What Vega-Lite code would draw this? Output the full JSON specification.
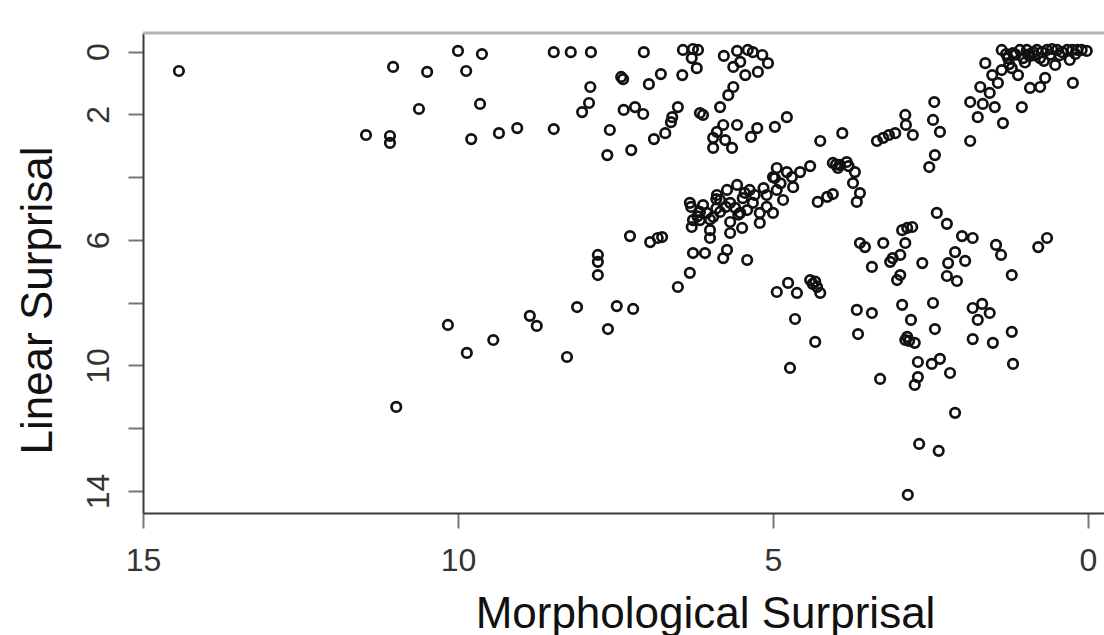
{
  "$schema": "https://vega.github.io/schema/vega-lite/v6.json",
  "width": 961,
  "height": 480,
  "autosize": {"type": "none"},
  "padding": {"left": 143, "top": 33, "right": 0, "bottom": 122},
  "background": "white",
  "config": {"view": {"stroke": null}, "font": "Liberation Sans"},
  "data": {"values": [
    {"morph":14.43,"linear":0.62},{"morph":11.46,"linear":2.66},{"morph":11.08,"linear":2.69},{"morph":11.08,"linear":2.91},{"morph":11.03,"linear":0.49},{"morph":10.62,"linear":1.83},{"morph":10.49,"linear":0.65},{"morph":10.00,"linear":-0.02},{"morph":9.87,"linear":0.62},{"morph":9.62,"linear":0.08},{"morph":9.65,"linear":1.67},{"morph":9.79,"linear":2.79},{"morph":9.35,"linear":2.60},{"morph":9.06,"linear":2.44},{"morph":8.48,"linear":0.02},{"morph":8.21,"linear":0.02},{"morph":7.89,"linear":0.02},{"morph":8.48,"linear":2.47},
    {"morph":10.98,"linear":11.32},{"morph":10.16,"linear":8.71},{"morph":9.86,"linear":9.60},{"morph":9.44,"linear":9.19},{"morph":8.86,"linear":8.42},{"morph":8.75,"linear":8.74},{"morph":8.27,"linear":9.73},{"morph":8.11,"linear":8.14},{"morph":7.62,"linear":8.84},{"morph":7.48,"linear":8.11},{"morph":7.22,"linear":8.20},
    {"morph":7.90,"linear":1.13},{"morph":7.92,"linear":1.64},{"morph":8.03,"linear":1.93},{"morph":7.59,"linear":2.50},{"morph":7.63,"linear":3.30},{"morph":7.25,"linear":3.14},{"morph":7.41,"linear":0.81},{"morph":7.38,"linear":0.88},{"morph":7.05,"linear":0.02},{"morph":6.97,"linear":1.04},{"morph":6.78,"linear":0.72},{"morph":7.37,"linear":1.86},{"morph":7.19,"linear":1.77},{"morph":7.06,"linear":1.99},{"morph":6.89,"linear":2.79},{"morph":6.71,"linear":2.60},{"morph":6.62,"linear":2.25},{"morph":6.60,"linear":2.09},{"morph":6.51,"linear":1.77},{"morph":6.44,"linear":0.75},{"morph":6.21,"linear":0.53},{"morph":6.43,"linear":-0.05},{"morph":6.27,"linear":-0.08},{"morph":6.19,"linear":-0.05},{"morph":6.29,"linear":0.21},{"morph":6.16,"linear":1.96},{"morph":6.11,"linear":2.02},{"morph":5.84,"linear":1.77},{"morph":5.71,"linear":1.39},{"morph":5.63,"linear":1.13},{"morph":5.89,"linear":2.56},{"morph":5.79,"linear":2.34},{"morph":5.57,"linear":2.34},{"morph":5.95,"linear":3.07},{"morph":5.65,"linear":3.07},{"morph":5.76,"linear":2.82},{"morph":5.95,"linear":2.75},{"morph":5.35,"linear":2.72},{"morph":5.25,"linear":2.44},{"morph":4.97,"linear":2.40},{"morph":4.78,"linear":2.09},{"morph":5.78,"linear":0.14},{"morph":5.57,"linear":-0.02},{"morph":5.32,"linear":0.02},{"morph":5.17,"linear":0.11},{"morph":5.08,"linear":0.37},{"morph":5.63,"linear":0.49},{"morph":5.44,"linear":0.75},{"morph":5.24,"linear":0.65},{"morph":5.52,"linear":0.33},{"morph":5.40,"linear":-0.05},
    {"morph":4.25,"linear":2.85},{"morph":3.90,"linear":2.60},{"morph":3.35,"linear":2.85},{"morph":3.25,"linear":2.75},{"morph":3.16,"linear":2.66},{"morph":3.06,"linear":2.60},{"morph":2.90,"linear":2.02},{"morph":2.89,"linear":2.34},{"morph":2.78,"linear":2.66},{"morph":2.44,"linear":1.61},{"morph":2.46,"linear":2.18},{"morph":2.35,"linear":2.56},{"morph":2.43,"linear":3.30},{"morph":2.52,"linear":3.68},{"morph":4.94,"linear":3.71},{"morph":4.97,"linear":4.03},{"morph":4.78,"linear":3.84},{"morph":4.57,"linear":3.84},{"morph":4.41,"linear":3.65},{"morph":4.05,"linear":3.55},{"morph":3.94,"linear":3.61},{"morph":3.83,"linear":3.52},{"morph":3.97,"linear":3.71},{"morph":3.70,"linear":3.84},{"morph":3.73,"linear":4.19},{"morph":3.62,"linear":4.51},{"morph":3.67,"linear":4.79},{"morph":4.29,"linear":4.79},{"morph":4.14,"linear":4.63},{"morph":4.05,"linear":4.54},{"morph":3.80,"linear":3.65},{"morph":4.00,"linear":3.60},
    {"morph":1.37,"linear":-0.05},{"morph":1.19,"linear":0.05},{"morph":1.08,"linear":-0.05},{"morph":0.97,"linear":-0.05},{"morph":0.87,"linear":0.02},{"morph":0.81,"linear":-0.05},{"morph":0.73,"linear":0.02},{"morph":0.65,"linear":-0.05},{"morph":0.57,"linear":-0.08},{"morph":0.49,"linear":-0.05},{"morph":0.41,"linear":0.02},{"morph":0.33,"linear":-0.05},{"morph":0.25,"linear":-0.05},{"morph":0.17,"linear":-0.05},{"morph":0.10,"linear":-0.05},{"morph":0.02,"linear":-0.02},{"morph":0.76,"linear":0.21},{"morph":1.03,"linear":0.21},{"morph":0.92,"linear":0.14},{"morph":0.52,"linear":0.43},{"morph":0.29,"linear":0.27},{"morph":0.24,"linear":1.00},{"morph":0.68,"linear":0.84},{"morph":0.76,"linear":1.13},{"morph":0.92,"linear":1.16},{"morph":1.63,"linear":0.37},{"morph":1.37,"linear":0.59},{"morph":1.21,"linear":0.53},{"morph":1.11,"linear":0.75},{"morph":1.52,"linear":0.75},{"morph":1.43,"linear":1.00},{"morph":1.71,"linear":1.13},{"morph":1.56,"linear":1.32},{"morph":1.87,"linear":1.61},{"morph":1.67,"linear":1.67},{"morph":1.48,"linear":1.77},{"morph":1.75,"linear":2.09},{"morph":1.05,"linear":1.77},{"morph":1.35,"linear":2.28},{"morph":1.87,"linear":2.85},{"morph":1.27,"linear":0.21},
    {"morph":1.15,"linear":0.10},{"morph":0.95,"linear":0.10},{"morph":0.85,"linear":0.12},{"morph":0.60,"linear":0.10},{"morph":0.45,"linear":0.12},{"morph":0.20,"linear":0.08},{"morph":1.30,"linear":0.08},{"morph":0.70,"linear":0.30},{"morph":1.00,"linear":0.35},{"morph":1.25,"linear":0.40},
    {"morph":7.27,"linear":5.88},{"morph":6.95,"linear":6.07},{"morph":6.83,"linear":5.94},{"morph":6.76,"linear":5.91},{"morph":7.78,"linear":6.48},{"morph":7.78,"linear":6.70},{"morph":7.78,"linear":7.12},{"morph":6.32,"linear":4.82},{"morph":6.30,"linear":4.95},{"morph":6.27,"linear":5.37},{"morph":6.29,"linear":5.59},{"morph":5.89,"linear":4.57},{"morph":5.73,"linear":4.41},{"morph":5.68,"linear":4.82},{"morph":5.48,"linear":4.67},{"morph":5.32,"linear":4.82},{"morph":5.10,"linear":4.57},{"morph":4.94,"linear":4.41},{"morph":4.84,"linear":4.73},{"morph":4.68,"linear":4.32},{"morph":5.00,"linear":4.00},{"morph":6.16,"linear":5.37},{"morph":6.05,"linear":5.14},{"morph":5.95,"linear":5.27},{"morph":5.84,"linear":5.11},{"morph":5.68,"linear":5.43},{"morph":5.52,"linear":5.14},{"morph":5.41,"linear":5.05},{"morph":5.21,"linear":5.14},{"morph":5.10,"linear":4.95},{"morph":5.00,"linear":5.14},{"morph":5.21,"linear":5.46},{"morph":6.00,"linear":5.69},{"morph":6.00,"linear":5.94},{"morph":5.68,"linear":5.78},{"morph":5.49,"linear":5.62},{"morph":6.27,"linear":6.42},{"morph":6.08,"linear":6.42},{"morph":5.73,"linear":6.32},{"morph":5.79,"linear":6.58},{"morph":5.41,"linear":6.64},{"morph":6.32,"linear":7.05},{"morph":6.51,"linear":7.50},{"morph":6.11,"linear":4.89},{"morph":5.57,"linear":4.25},{"morph":5.37,"linear":4.41},{"morph":5.84,"linear":4.73},{"morph":6.16,"linear":5.11},{"morph":5.60,"linear":4.98},{"morph":5.29,"linear":4.57},
    {"morph":5.90,"linear":4.70},{"morph":5.75,"linear":4.95},{"morph":5.55,"linear":5.20},{"morph":5.90,"linear":5.00},{"morph":6.20,"linear":5.25},{"morph":6.00,"linear":5.35},{"morph":5.45,"linear":4.50},{"morph":5.15,"linear":4.35},{"morph":4.88,"linear":4.20},{"morph":4.70,"linear":4.00},
    {"morph":2.40,"linear":5.14},{"morph":2.24,"linear":5.49},{"morph":2.95,"linear":5.69},{"morph":2.87,"linear":5.62},{"morph":2.79,"linear":5.59},{"morph":3.62,"linear":6.10},{"morph":3.54,"linear":6.23},{"morph":3.25,"linear":6.10},{"morph":2.90,"linear":6.10},{"morph":3.10,"linear":6.58},{"morph":3.14,"linear":6.70},{"morph":2.98,"linear":6.48},{"morph":3.43,"linear":6.86},{"morph":2.63,"linear":6.74},{"morph":2.98,"linear":7.12},{"morph":3.03,"linear":7.28},{"morph":2.00,"linear":5.88},{"morph":1.83,"linear":5.94},{"morph":2.11,"linear":6.39},{"morph":2.22,"linear":6.74},{"morph":1.95,"linear":6.67},{"morph":2.24,"linear":7.15},{"morph":2.08,"linear":7.31},{"morph":1.46,"linear":6.16},{"morph":1.38,"linear":6.48},{"morph":1.21,"linear":7.12},{"morph":0.79,"linear":6.23},{"morph":0.65,"linear":5.94},
    {"morph":4.94,"linear":7.66},{"morph":4.76,"linear":7.37},{"morph":4.62,"linear":7.69},{"morph":4.41,"linear":7.28},{"morph":4.37,"linear":7.40},{"morph":4.33,"linear":7.33},{"morph":4.30,"linear":7.50},{"morph":4.25,"linear":7.69},{"morph":4.65,"linear":8.52},{"morph":3.67,"linear":8.23},{"morph":3.43,"linear":8.33},{"morph":2.95,"linear":8.07},{"morph":2.46,"linear":8.01},{"morph":2.81,"linear":8.55},{"morph":2.43,"linear":8.84},{"morph":3.65,"linear":9.00},{"morph":2.87,"linear":9.09},{"morph":2.90,"linear":9.19},{"morph":2.84,"linear":9.22},{"morph":2.75,"linear":9.28},{"morph":1.83,"linear":8.17},{"morph":1.68,"linear":8.04},{"morph":1.56,"linear":8.33},{"morph":1.75,"linear":8.55},{"morph":1.21,"linear":8.93},{"morph":1.83,"linear":9.16},{"morph":1.51,"linear":9.28},{"morph":4.33,"linear":9.25},{"morph":4.73,"linear":10.08},{"morph":2.70,"linear":9.89},{"morph":2.48,"linear":9.95},{"morph":2.35,"linear":9.79},{"morph":2.19,"linear":10.24},{"morph":2.70,"linear":10.37},{"morph":2.75,"linear":10.62},{"morph":3.30,"linear":10.43},{"morph":1.19,"linear":9.95},{"morph":2.11,"linear":11.51},{"morph":2.68,"linear":12.50},{"morph":2.37,"linear":12.72},{"morph":2.86,"linear":14.12}
  ]},
  "layer": [
    {
      "data": {"values": [{}]},
      "mark": {"type": "rule", "color": "#b3b3b3", "strokeWidth": 3},
      "encoding": {"y": {"datum": -0.59, "type": "quantitative"}}
    },
    {
      "mark": {"type": "point", "shape": "circle", "filled": false, "stroke": "#111111", "strokeWidth": 2.7, "size": 90, "opacity": 1},
      "encoding": {
        "x": {
          "field": "morph", "type": "quantitative",
          "scale": {"domain": [-0.254, 15], "reverse": true, "nice": false, "zero": false},
          "axis": {
            "values": [0, 5, 10, 15], "title": "Morphological Surprisal", "grid": false,
            "domainColor": "#3a3a3a", "domainWidth": 2, "tickColor": "#777777", "tickWidth": 2, "tickSize": 15,
            "labelFontSize": 32, "labelColor": "#333333", "labelPadding": 17, "labelFont": "Liberation Sans",
            "labelFlush": false, "labelOverlap": false, "labelDx": 5,
            "titleFontSize": 44, "titleFontWeight": "normal", "titleColor": "#111111", "titleFont": "Liberation Sans",
            "titleX": 562, "titleY": 114, "titleBaseline": "alphabetic", "titleAlign": "center"
          }
        },
        "y": {
          "field": "linear", "type": "quantitative",
          "scale": {"domain": [-0.59, 14.7], "reverse": true, "nice": false, "zero": false},
          "axis": {
            "values": [0, 2, 4, 6, 8, 10, 12, 14], "title": "Linear Surprisal", "grid": false,
            "labelExpr": "(datum.value == 4 || datum.value == 8 || datum.value == 12) ? '' : datum.label",
            "domainColor": "#3a3a3a", "domainWidth": 2, "tickColor": "#777777", "tickWidth": 2, "tickSize": 15,
            "labelFontSize": 32, "labelColor": "#333333", "labelPadding": 20, "labelFont": "Liberation Sans",
            "labelAngle": -90, "labelAlign": "center", "labelBaseline": "alphabetic",
            "labelFlush": false, "labelOverlap": false,
            "titleFontSize": 44, "titleFontWeight": "normal", "titleColor": "#111111", "titleFont": "Liberation Sans",
            "titleAngle": -90, "titleX": -92, "titleY": 267, "titleBaseline": "alphabetic", "titleAlign": "center"
          }
        }
      }
    }
  ]
}
